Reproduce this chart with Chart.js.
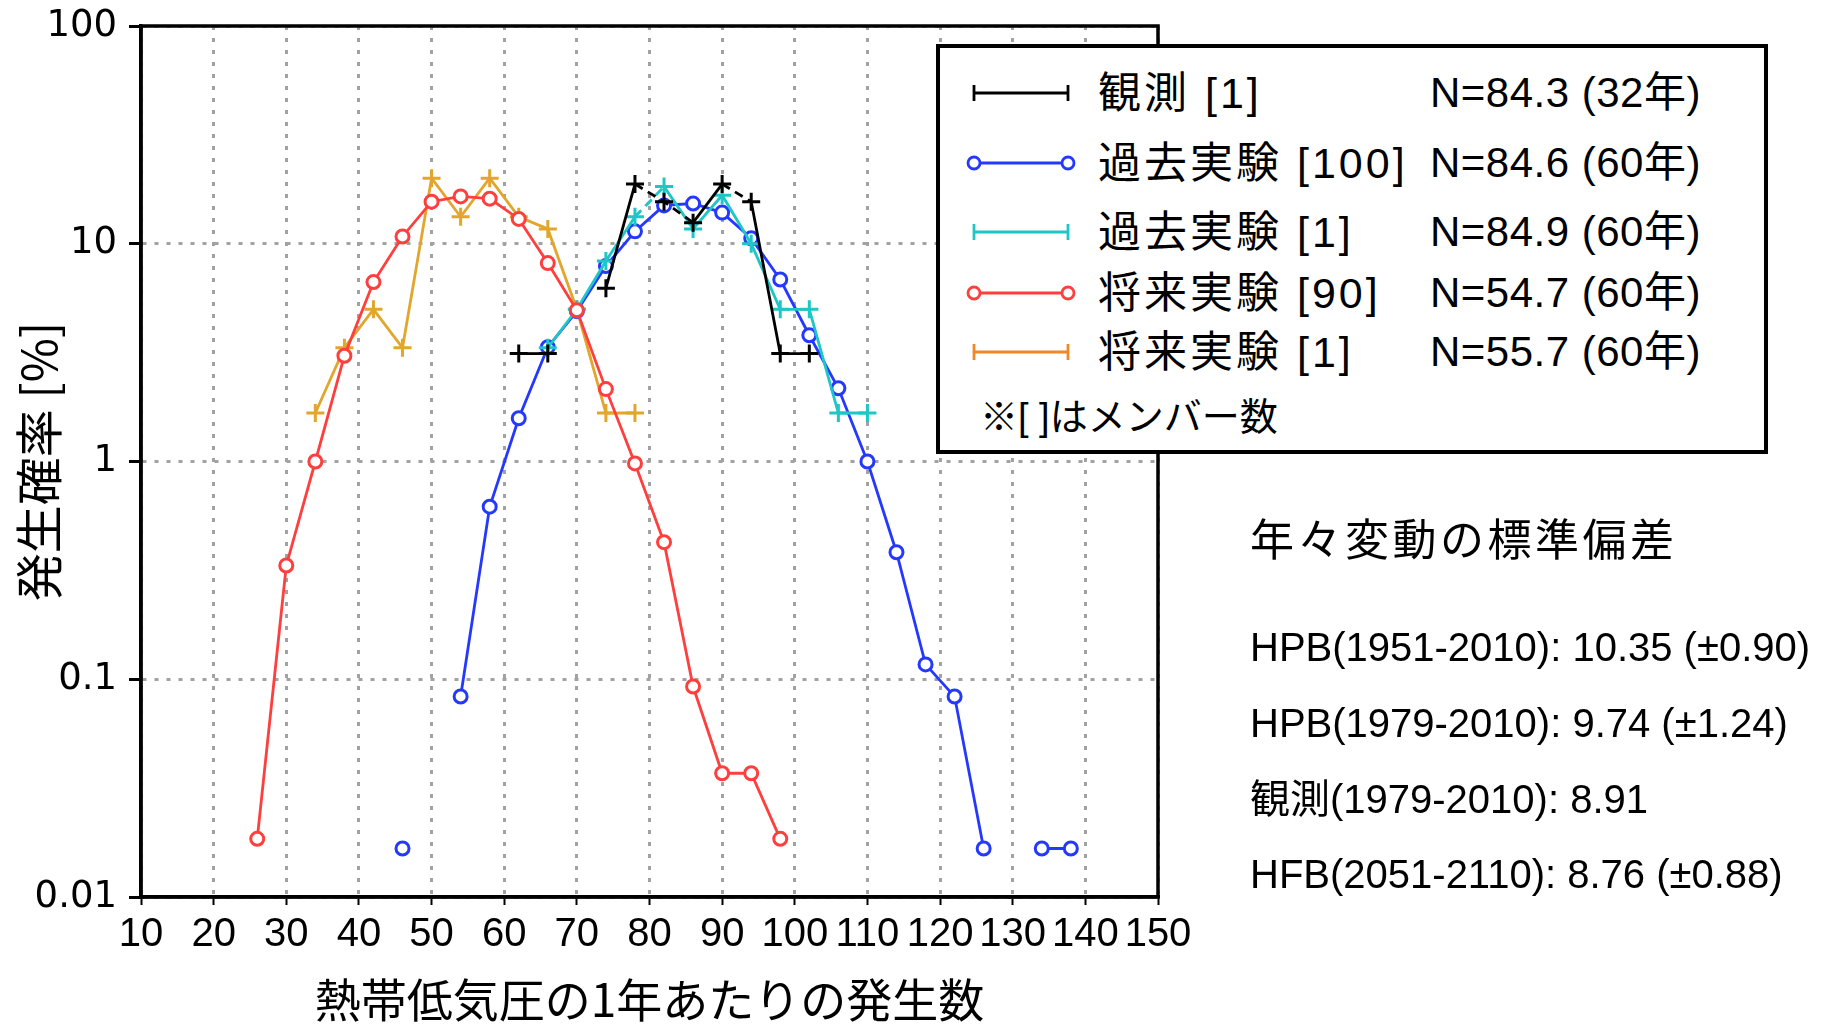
<!DOCTYPE html>
<html lang="ja">
<head>
<meta charset="utf-8">
<script src="https://cdn.jsdelivr.net/npm/chart.js@4.4.1/dist/chart.umd.min.js"></script>
<style>
    html, body { margin: 0; padding: 0; background: #fff; }
    #wrap { position: relative; width: 1834px; height: 1024px; overflow: hidden; }
    #chart { position: absolute; left: 0; top: 0; }
    .legend {
        position: absolute; left: 936px; top: 44px; width: 832px; height: 410px;
        box-sizing: border-box; border: 4px solid #000; background: #fff;
        font-family: "Liberation Sans", "Noto Sans CJK JP", sans-serif; color: #000;
    }
    .legend .row { position: absolute; left: 0; height: 50px; line-height: 50px; width: 100%; white-space: nowrap; }
    .legend svg { position: absolute; left: 24px; top: 10px; }
    .legend .lab { position: absolute; left: 158px; font-size: 43px; letter-spacing: 3px; }
    .legend .n { position: absolute; left: 490px; font-size: 42px; letter-spacing: 0.5px; }
    .legend .note { position: absolute; left: 40px; font-size: 38px; }
    .side { position: absolute; left: 1250px; font-family: "Liberation Sans", "Noto Sans CJK JP", sans-serif; color: #000; white-space: nowrap; }
    .side.title { font-size: 44px; letter-spacing: 3.5px; height: 60px; line-height: 60px; }
    .side.line { font-size: 40px; height: 50px; line-height: 50px; }
</style>
</head>
<body>
<div id="wrap">
    <canvas id="chart" width="1834" height="1024"></canvas>
    <div class="legend" id="legend"></div>
    <div id="side"></div>
</div>
<script>
// ============================================
// Tropical cyclone genesis count distribution
// ============================================

// bin centres (number of TCs per year)
const binCenters = [26, 30, 34, 38, 42, 46, 50, 54, 58, 62, 66, 70, 74, 78, 82, 86, 90, 94, 98, 102, 106, 110, 114, 118, 122, 126, 130, 134, 138];

// probability [%] per bin, null = no occurrence
const obs1   = [null, null, null, null, null, null, null, null, null, 3.13, 3.13, null, 6.25, 18.8, 15.6, 12.5, 18.8, 15.6, 3.13, 3.13, null, null, null, null, null, null, null, null, null];
const hpb100 = [null, null, null, null, null, 0.0167, null, 0.0833, 0.62, 1.58, 3.35, 4.9, 7.9, 11.4, 15.0, 15.3, 13.9, 10.6, 6.85, 3.8, 2.17, 1.0, 0.383, 0.117, 0.0833, 0.0167, null, 0.0167, 0.0167];
const hpb1   = [null, null, null, null, null, null, null, null, null, null, 3.33, 5.0, 8.33, 13.3, 18.3, 11.7, 16.7, 10.0, 5.0, 5.0, 1.67, 1.67, null, null, null, null, null, null, null];
const hfb90  = [0.0185, 0.333, 1.0, 3.06, 6.67, 10.8, 15.6, 16.5, 16.1, 13.0, 8.15, 4.95, 2.15, 0.98, 0.426, 0.0926, 0.037, 0.037, 0.0185, null, null, null, null, null, null, null, null, null, null];
const hfb1   = [null, null, 1.67, 3.33, 5.0, 3.33, 20.0, 13.3, 20.0, 13.3, 11.7, 5.0, 1.67, 1.67, null, null, null, null, null, null, null, null, null, null, null, null, null, null, null];

// axes
const xTickValues = [10, 20, 30, 40, 50, 60, 70, 80, 90, 100, 110, 120, 130, 140, 150];
const yTickValues = [0.01, 0.1, 1, 10, 100];
const yTickLabels = ["0.01", "0.1", "1", "10", "100"];

// legend + side text
const legendLabels = ["観測 [1]", "過去実験 [100]", "過去実験 [1]", "将来実験 [90]", "将来実験 [1]"];
const legendN = ["N=84.3 (32年)", "N=84.6 (60年)", "N=84.9 (60年)", "N=54.7 (60年)", "N=55.7 (60年)"];
const legendNote = "※[ ]はメンバー数";
const sideTitle = "年々変動の標準偏差";
const sideLines = ["HPB(1951-2010): 10.35 (±0.90)", "HPB(1979-2010): 9.74 (±1.24)", "観測(1979-2010): 8.91", "HFB(2051-2110): 8.76 (±0.88)"];

const BLACK = "#000000", BLUE = "#2438ff", CYAN = "#1fc6c6", RED = "#ff3e3e", GOLD = "#e2a62c", ORANGE = "#f0882a";

const toPoints = (arr) => binCenters.map((x, i) => ({ x, y: arr[i] }));

// segments drawn dashed in the original figure
const dashedObs = [78, 82, 90];
const dashedHpb1 = [78];

const crossStyle = (color) => ({
    borderColor: color, backgroundColor: color, borderWidth: 2.8,
    pointStyle: "cross", pointRadius: 9, pointBorderWidth: 3,
    pointBorderColor: color, pointHoverRadius: 9
});
const circleStyle = (color) => ({
    borderColor: color, backgroundColor: "#ffffff", borderWidth: 2.8,
    pointStyle: "circle", pointRadius: 6.5, pointBorderWidth: 3,
    pointBorderColor: color, pointBackgroundColor: "#ffffff", pointHoverRadius: 6.5
});

const frame = {
    id: "frame",
    afterDatasetsDraw(chart) {
        const { ctx, chartArea: a } = chart;
        ctx.save();
        ctx.setLineDash([]);
        ctx.strokeStyle = "#000";
        ctx.lineWidth = 3.5;
        ctx.strokeRect(a.left, a.top, a.right - a.left, a.bottom - a.top);
        ctx.restore();
    }
};

new Chart(document.getElementById("chart"), {
    type: "line",
    data: {
        datasets: [
            {
                label: legendLabels[0], data: toPoints(obs1), ...crossStyle(BLACK),
                segment: { borderDash: c => dashedObs.includes(c.p0.parsed.x) ? [9, 6] : undefined }
            },
            { label: legendLabels[3], data: toPoints(hfb90), ...circleStyle(RED) },
            {
                label: legendLabels[2], data: toPoints(hpb1), ...crossStyle(CYAN),
                segment: { borderDash: c => dashedHpb1.includes(c.p0.parsed.x) ? [9, 6] : undefined }
            },
            { label: legendLabels[1], data: toPoints(hpb100), ...circleStyle(BLUE) },
            { label: legendLabels[4], data: toPoints(hfb1), ...crossStyle(GOLD) }
        ]
    },
    options: {
        responsive: false,
        animation: false,
        spanGaps: false,
        layout: { padding: { left: 0, top: 26, right: 676, bottom: 0 } },
        plugins: { legend: { display: false }, tooltip: { enabled: false } },
        scales: {
            x: {
                type: "linear", min: 10, max: 150,
                afterFit: s => { s.height = 127; },
                afterBuildTicks: s => { s.ticks = xTickValues.map(v => ({ value: v })); },
                ticks: {
                    autoSkip: false, maxRotation: 0, padding: 6, color: "#000",
                    font: { family: "Liberation Sans", size: 40 }
                },
                grid: { color: "#a2a2a2", lineWidth: 3, tickLength: 8, tickColor: "#000", tickWidth: 2 },
                border: { display: true, color: "#000", width: 3.5, dash: [4, 8] },
                title: {
                    display: true, text: "熱帯低気圧の1年あたりの発生数", color: "#000",
                    font: { family: "Noto Sans CJK JP", size: 46, lineHeight: 1 },
                    padding: { top: 0, bottom: 1 }
                }
            },
            y: {
                type: "logarithmic", min: 0.01, max: 100,
                afterFit: s => { s.width = 141; s.paddingTop = 0; s.paddingBottom = 0; },
                afterBuildTicks: s => { s.ticks = yTickValues.map(v => ({ value: v })); },
                ticks: {
                    padding: 12, color: "#000",
                    font: { family: "DejaVu Sans", size: 37 },
                    callback: (v, i) => yTickLabels[i]
                },
                grid: { color: "#a2a2a2", lineWidth: 3, tickLength: 12, tickColor: "#000", tickWidth: 3 },
                border: { display: true, color: "#000", width: 3.5, dash: [4, 8] },
                title: {
                    display: true, text: "発生確率 [%]", color: "#000",
                    font: { family: "Noto Sans CJK JP", size: 48, lineHeight: 1 },
                    padding: { top: 15, bottom: 0 }
                }
            }
        }
    },
    plugins: [frame]
});

// legend box
const legendColors = [BLACK, BLUE, CYAN, RED, ORANGE];
const legendMarkers = ["cross", "circle", "cross", "circle", "cross"];
const rowCenters = [45, 115, 184, 245, 304];

function marker(type, cx, color) {
    if (type === "circle") {
        return `<circle cx="${cx}" cy="15" r="6" fill="#fff" stroke="${color}" stroke-width="2.8"/>`;
    }
    return `<line x1="${cx}" y1="7" x2="${cx}" y2="23" stroke="${color}" stroke-width="2.8"/>`;
}

document.getElementById("legend").innerHTML = legendLabels.map((lab, i) => `
    <div class="row" style="top:${rowCenters[i] - 25}px">
        <svg width="124" height="30">
            <line x1="10" y1="15" x2="104" y2="15" stroke="${legendColors[i]}" stroke-width="2.8"/>
            ${marker(legendMarkers[i], 10, legendColors[i])}
            ${marker(legendMarkers[i], 104, legendColors[i])}
        </svg>
        <span class="lab">${lab}</span>
        <span class="n">${legendN[i]}</span>
    </div>`).join("") +
    `<div class="row" style="top:${369 - 25}px"><span class="note">${legendNote}</span></div>`;

// side panel
const sideCenters = [647, 723, 799, 874];
document.getElementById("side").innerHTML =
    `<div class="side title" style="top:${541 - 30}px">${sideTitle}</div>` +
    sideLines.map((t, i) => `<div class="side line" style="top:${sideCenters[i] - 25}px">${t}</div>`).join("");
</script>
</body>
</html>
